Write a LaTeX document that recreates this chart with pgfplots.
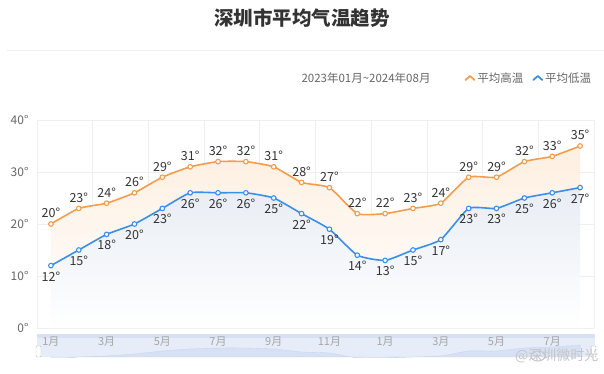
\documentclass[border=0pt]{standalone}
\usepackage{pgfplots}
\usepackage{pgfplotstable}
\pgfplotsset{compat=1.18}
\usepackage{fontspec}
\setmainfont{Noto Sans CJK SC}
\definecolor{hi}{HTML}{F39C4D}
\definecolor{lo}{HTML}{3A8FE8}
\definecolor{hifill}{HTML}{FEEFE0}
\definecolor{lofill}{HTML}{E8EDF4}
\definecolor{tt}{HTML}{333333}
\definecolor{sub}{HTML}{666666}
\definecolor{gridc}{HTML}{EEEEEE}
\definecolor{sl}{HTML}{E6ECF8}
\definecolor{sltop}{HTML}{D8E1F2}
\definecolor{slbg}{HTML}{C9D7F0}
\pgfplotstableread{
x hi lo
0 20 12
1 23 15
2 24 18
3 26 20
4 29 23
5 31 26
6 32 26
7 32 26
8 31 25
9 28 22
10 27 19
11 22 14
12 22 13
13 23 15
14 24 17
15 29 23
16 29 23
17 32 25
18 33 26
19 35 27
}\data
\begin{document}
\begin{tikzpicture}
\useasboundingbox (0pt,0pt) rectangle (604pt,373pt);
\node[font=\fontsize{19.5}{21}\selectfont\bfseries, text=tt] at (302pt,355pt) {深圳市平均气温趋势};
\draw[gridc, line width=1pt] (7pt,322.5pt) -- (604pt,322.5pt);
\node[font=\fontsize{11.5}{12}\selectfont, text=sub, anchor=west] at (298pt,295pt) {2023年01月\textasciitilde2024年08月};
% slider background
\fill[sl] (37pt,16pt) rectangle (595pt,39pt);
\fill[sltop] (37pt,35pt) rectangle (595pt,39pt);
\begin{axis}[at={(37pt,16pt)}, anchor=south west, scale only axis,
  width=557pt, height=23pt, xmin=-0.5, xmax=19.5, ymin=23, ymax=46,
  hide axis]
\addplot[draw=slbg, fill=slbg, fill opacity=0.5, smooth, tension=0.3] table[x=x,y=hi]{\data} \closedcycle;
\end{axis}
\filldraw[fill=white, draw=gray!50, rounded corners=1pt] (36pt,16pt) rectangle (41pt,27pt);
\filldraw[fill=white, draw=gray!50, rounded corners=1pt] (591pt,16pt) rectangle (596pt,27pt);
\begin{axis}[at={(37pt,45pt)}, anchor=south west, scale only axis,
  width=557pt, height=208pt,
  xmin=-0.5, xmax=19.5, ymin=0, ymax=40,
  clip=false,
  axis line style={draw=none},
  major tick length=0pt,
  xtick={0,2,...,18},
  xticklabels={1月,3月,5月,7月,9月,11月,1月,3月,5月,7月},
  xticklabel style={font=\fontsize{11}{12}\selectfont, text=gray!70, yshift=-5pt},
  extra x ticks={-0.5,1.5,3.5,5.5,7.5,9.5,11.5,13.5,15.5,17.5,19.5},
  extra x tick labels={},
  extra x tick style={grid=major, major grid style={gridc, line width=0.8pt}},
  ytick={0,10,20,30,40},
  ymajorgrids,
  major grid style={gridc, line width=0.6pt},
  yticklabel={\pgfmathprintnumber{\tick}°},
  yticklabel style={font=\fontsize{12}{13}\selectfont, text=sub, xshift=-5pt},
  /pgf/number format/assume math mode=true,
  legend style={at={(0.762,1.202)}, anchor=west, draw=none, fill=none,
    font=\fontsize{11.5}{12}\selectfont, text=sub, legend columns=2,
    /tikz/every even column/.append style={column sep=7pt}},
  nodes near coords={\pgfmathprintnumber{\pgfplotspointmeta}°},
  every node near coord/.append style={font=\fontsize{12.5}{13}\selectfont, text=tt},
]
\addplot[draw=none, smooth, tension=0.3, top color=hifill, bottom color=white, forget plot, nodes near coords={}] table[x=x,y=hi]{\data} \closedcycle;
\addplot[draw=none, smooth, tension=0.3, top color=lofill, bottom color=white, forget plot, nodes near coords={}] table[x=x,y=lo]{\data} \closedcycle;
\addplot[hi, line width=1.6pt, smooth, tension=0.3, mark=*, mark size=2.3pt,
  mark options={fill=white, draw=hi, line width=1.1pt, solid},
  every node near coord/.append style={anchor=south, yshift=2pt}, forget plot]
  table[x=x,y=hi]{\data};
\addplot[lo, line width=1.6pt, smooth, tension=0.3, mark=*, mark size=2.3pt,
  mark options={fill=white, draw=lo, line width=1.1pt, solid},
  every node near coord/.append style={anchor=north, yshift=-2pt}, forget plot]
  table[x=x,y=lo]{\data};
\addlegendimage{legend image code/.code={\draw[hi, line width=1.8pt, line join=round, line cap=round] (0pt,-2pt) -- (4.5pt,2pt) -- (9pt,-2pt);}}
\addlegendentry{平均高温}
\addlegendimage{legend image code/.code={\draw[lo, line width=1.8pt, line join=round, line cap=round] (0pt,-2pt) -- (4.5pt,2pt) -- (9pt,-2pt);}}
\addlegendentry{平均低温}
\end{axis}
\node[font=\fontsize{14}{15}\selectfont, text=gray!45, anchor=east] at (602pt,17pt) {@深圳微时光};
\draw[gray!45, line width=1pt] (538pt,17pt) ellipse (7pt and 5pt);
\end{tikzpicture}
\end{document}
